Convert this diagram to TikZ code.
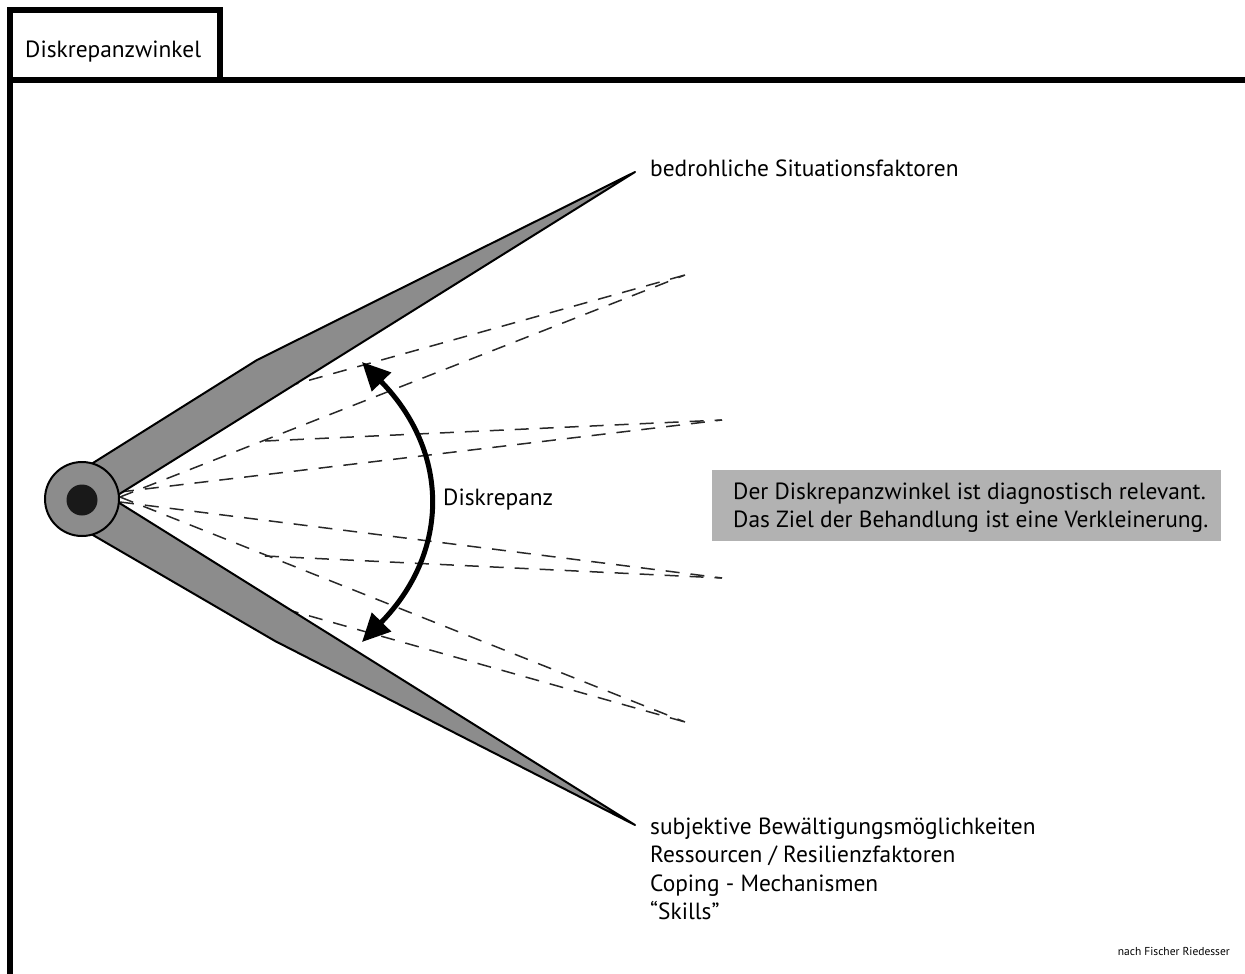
\documentclass[tikz,border=0pt]{standalone}
\usepackage{fontspec}
\setmainfont{PT Sans}
\usetikzlibrary{arrows.meta}
\definecolor{armgray}{RGB}{140,140,140}
\definecolor{boxgray}{RGB}{178,178,178}
\definecolor{dashcol}{RGB}{40,40,40}
\begin{document}
\begin{tikzpicture}[x=1pt,y=-1pt,
  lbl/.style={inner sep=0pt,anchor=base west,font=\fontsize{23.4}{28.5}\selectfont},
  fan/.style={draw=dashcol,line width=1.5pt,dash pattern=on 14pt off 11pt},
  arm/.style={fill=armgray,draw=black,line width=2pt,line join=round},
  frame/.style={line width=6pt,draw=black}
]
\useasboundingbox (0,0) rectangle (1245,974);
% frame and tab
\draw[frame] (10,974) -- (10,10) -- (220,10) -- (220,80);
\draw[frame] (10,80) -- (1245,80);
\node[lbl] (tab) at (25,58) {Diskrepanzwinkel};
% dashed fan
\coordinate (s) at (120,497);
\coordinate (eU) at (685,275);
\coordinate (eM) at (722,420);
\coordinate (eN) at (722,578);
\coordinate (eL) at (685,722);
\draw[fan] (s) -- (eU);
\draw[fan] (285,387) -- (eU);
\draw[fan] (265,441) -- (eM);
\draw[fan] (120,492) -- (eM);
\draw[fan] (120,502) -- (eN);
\draw[fan] (265,556) -- (eN);
\draw[fan] (s) -- (eL);
\draw[fan] (285,609) -- (eL);
% arms
\draw[arm] (85,468) -- (257,360) -- (635,172) -- (97,508) -- cycle;
\draw[arm] (97,489) -- (635,825) -- (275,641) -- (86,531) -- cycle;
% hub
\draw[fill=armgray,draw=black,line width=2pt] (82,499) circle (37);
\fill[black!90] (82,500) circle (15.5);
% arrow
\draw[line width=5pt,{Triangle[length=28pt,width=26pt]}-{Triangle[length=28pt,width=26pt]}]
  (362,362) .. controls (450,452) and (450,552) .. (362,642);
\node[lbl] (disk) at (443,505) {Diskrepanz};
% labels
\node[lbl] (threat) at (650,176) {bedrohliche Situationsfaktoren};
\node[lbl] (c1) at (650,834) {subjektive Bewältigungsmöglichkeiten};
\node[lbl] (c2) at (650,862) {Ressourcen / Resilienzfaktoren};
\node[lbl] (c3) at (650,891) {Coping - Mechanismen};
\node[lbl] (c4) at (650,919) {“Skills”};
% gray box
\fill[boxgray] (712,470) rectangle (1221,541);
\node[lbl] (b1) at (733,499) {Der Diskrepanzwinkel ist diagnostisch relevant.};
\node[lbl] (b2) at (733,527) {Das Ziel der Behandlung ist eine Verkleinerung.};
% credit
\node[inner sep=0pt,anchor=base east,font=\fontsize{11.5}{13}\selectfont] (credit) at (1230,955) {nach Fischer Riedesser};
\end{tikzpicture}
\end{document}
